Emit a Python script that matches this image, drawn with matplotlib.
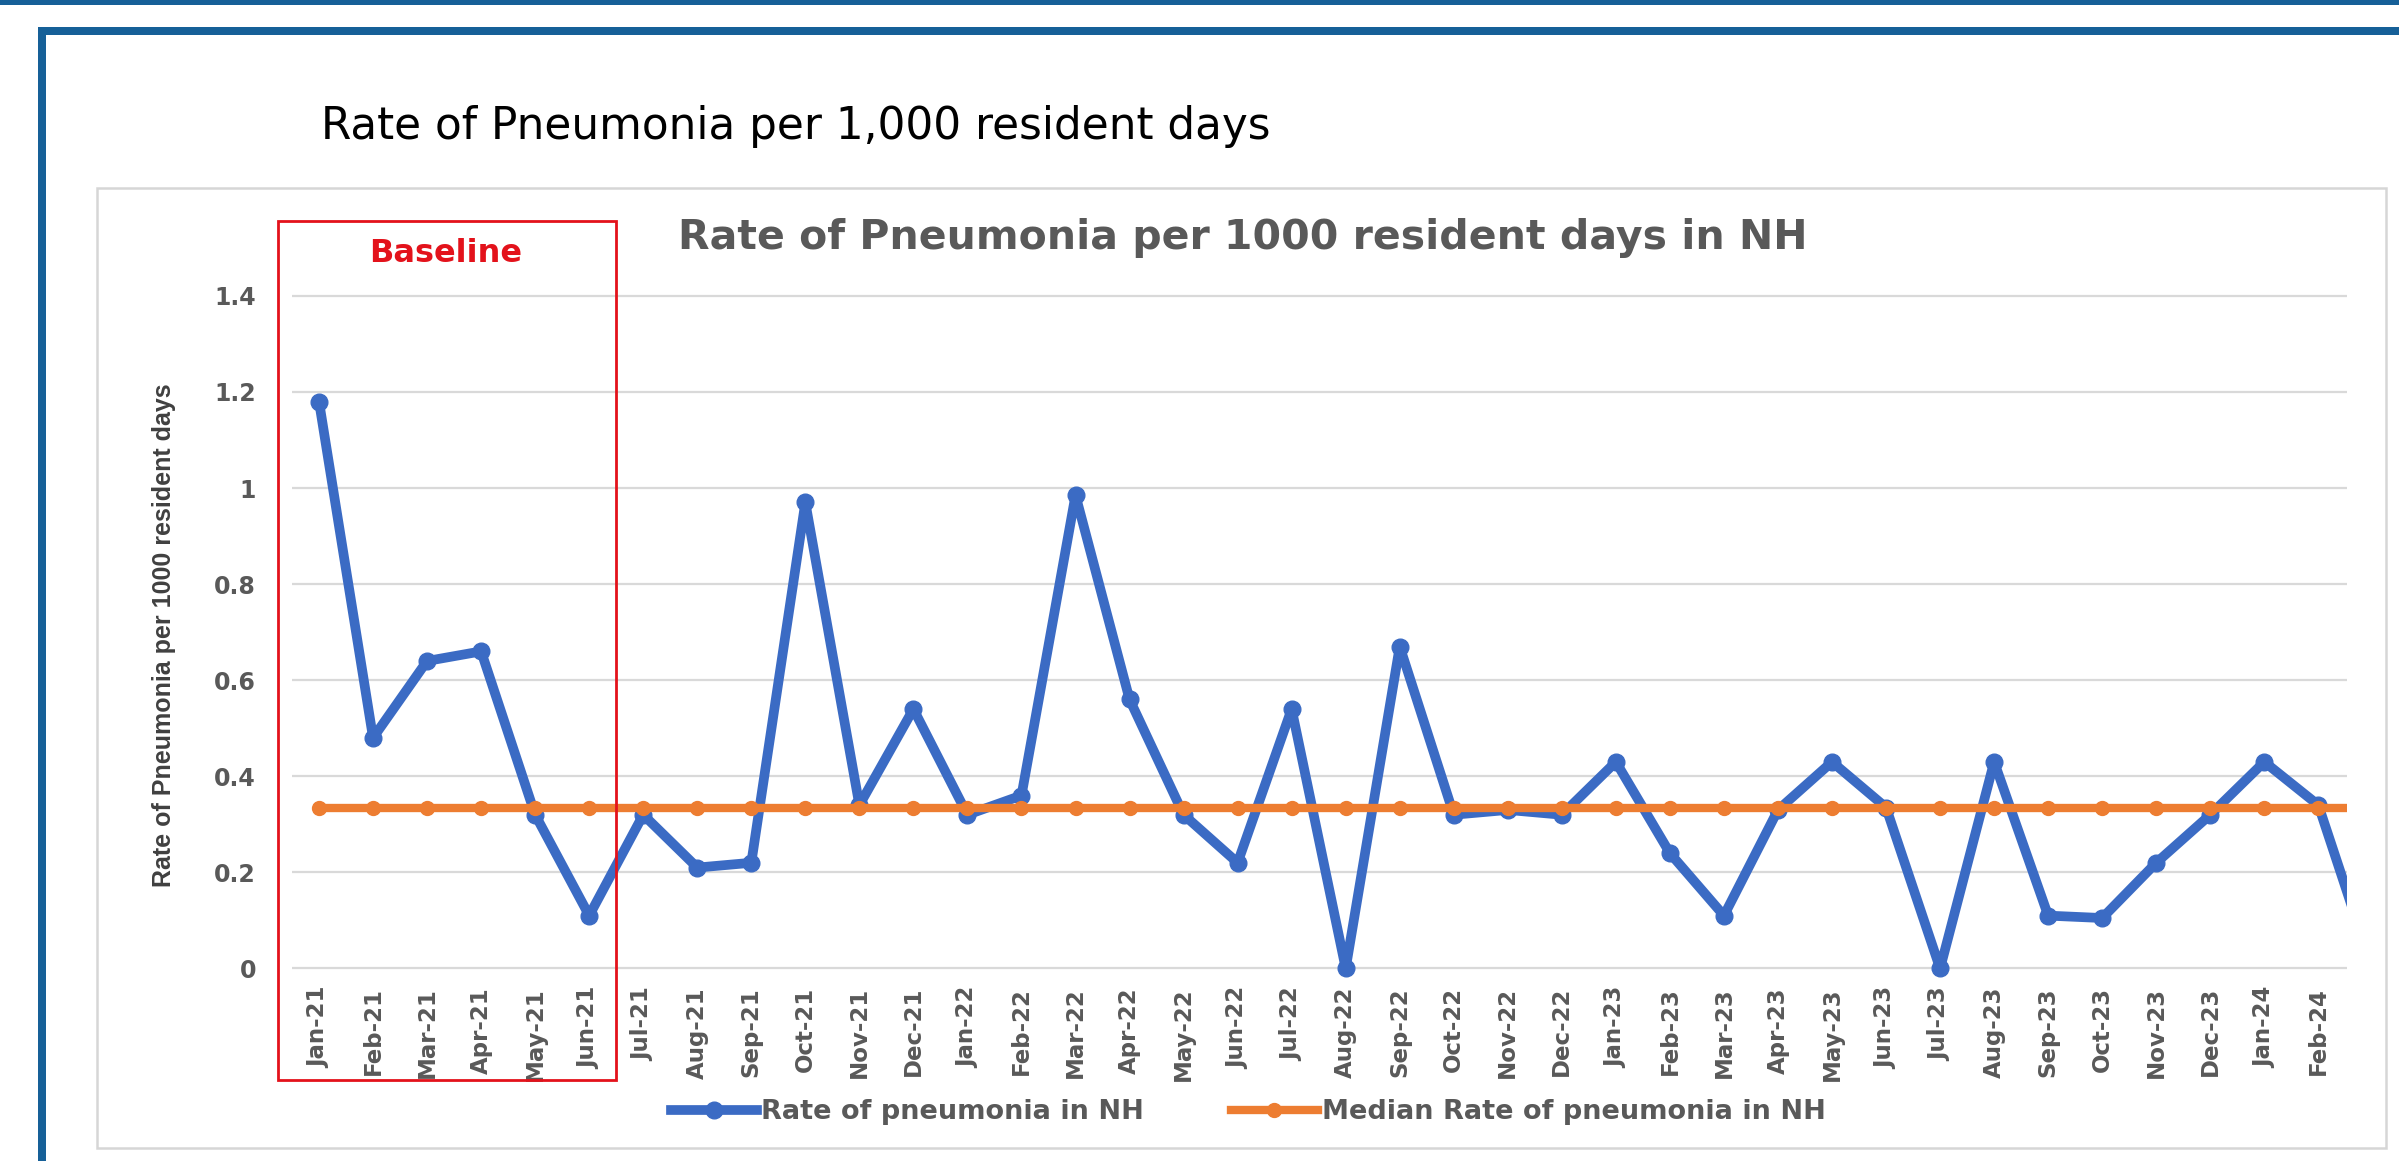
import matplotlib
matplotlib.use("Agg")
import matplotlib.pyplot as plt
from matplotlib.patches import Rectangle

# monthly rate of pneumonia per 1000 resident days (Mar-24 runs off the plot edge)
months = ["Jan-21", "Feb-21", "Mar-21", "Apr-21", "May-21", "Jun-21",
          "Jul-21", "Aug-21", "Sep-21", "Oct-21", "Nov-21", "Dec-21",
          "Jan-22", "Feb-22", "Mar-22", "Apr-22", "May-22", "Jun-22",
          "Jul-22", "Aug-22", "Sep-22", "Oct-22", "Nov-22", "Dec-22",
          "Jan-23", "Feb-23", "Mar-23", "Apr-23", "May-23", "Jun-23",
          "Jul-23", "Aug-23", "Sep-23", "Oct-23", "Nov-23", "Dec-23",
          "Jan-24", "Feb-24", "Mar-24"]
rate = [1.18, 0.48, 0.64, 0.66, 0.32, 0.11,
        0.32, 0.21, 0.22, 0.97, 0.34, 0.54,
        0.32, 0.36, 0.985, 0.56, 0.32, 0.22,
        0.54, 0.0, 0.67, 0.32, 0.33, 0.32,
        0.43, 0.24, 0.11, 0.33, 0.43, 0.335,
        0.0, 0.43, 0.11, 0.105, 0.22, 0.32,
        0.43, 0.34, 0.0]
median_value = 0.335
median_rate = [median_value] * len(months)

y_ticks = [0, 0.2, 0.4, 0.6, 0.8, 1.0, 1.2, 1.4]
y_tick_labels = ["0", "0.2", "0.4", "0.6", "0.8", "1", "1.2", "1.4"]

BLUE = "#3b6bc4"
ORANGE = "#ed7d31"
GREY = "#595959"
RED = "#e3121b"
PANEL = "#166098"

W, H = 2399, 1161
fig = plt.figure(figsize=(W / 100, H / 100), dpi=100)


def fx(x):
    return x / W


def fy(y):
    return 1 - y / H


def box(x0, y0, x1, y1, **kw):
    # rectangle given in pixel coords (top-left origin)
    r = Rectangle((fx(x0), fy(y1)), (x1 - x0) / W, (y1 - y0) / H,
                  transform=fig.transFigure, **kw)
    fig.add_artist(r)
    return r


# page frame
box(0, 0, W, 5, color=PANEL, lw=0)
box(38, 27, W, 35, color=PANEL, lw=0)
box(38, 27, 46, H, color=PANEL, lw=0)
box(97, 188, 2386, 1148, fill=False, edgecolor="#d6d6d6", lw=1.8)

fig.text(fx(321), fy(127), "Rate of Pneumonia per 1,000 resident days",
         fontsize=31.5, family="DejaVu Sans", color="black", va="center", ha="left")

ax = fig.add_axes([fx(292), fy(992.5), (2347 - 292) / W, (992.5 - 271.8) / H])
ax.patch.set_alpha(0)
x = list(range(len(months)))
ax.plot(x, rate, color=BLUE, lw=7, marker="o", ms=12,
        label="Rate of pneumonia in NH", zorder=3)
ax.plot(x, median_rate, color=ORANGE, lw=6, marker="o", ms=10,
        label="Median Rate of pneumonia in NH", zorder=4)

ax.set_yticks(y_ticks, y_tick_labels)
ax.set_xticks(x, months, rotation=90)
ax.set_xlim(-0.5, 37.53)
ax.set_ylim(-0.05, 1.45)
ax.tick_params(length=0)
ax.tick_params(axis="y", pad=26)
ax.tick_params(axis="x", pad=-4)
for s in ax.spines.values():
    s.set_visible(False)
ax.yaxis.grid(True, color="#d9d9d9", lw=1.6)
ax.set_axisbelow(True)

for lbl in ax.get_xticklabels():
    lbl.set_family("DejaVu Sans")
    lbl.set_fontweight("bold")
    lbl.set_fontsize(16.5)
    lbl.set_color(GREY)
for lbl in ax.get_yticklabels():
    lbl.set_family("DejaVu Sans")
    lbl.set_fontweight("bold")
    lbl.set_fontsize(17)
    lbl.set_color(GREY)

fig.text(fx(164), fy(635), "Rate of Pneumonia per 1000 resident days",
         rotation=90, family="Liberation Sans", fontweight="bold",
         fontsize=18, color="#404040", ha="center", va="center")

fig.text(fx(1243), fy(238), "Rate of Pneumonia per 1000 resident days in NH",
         family="DejaVu Sans", fontweight="bold", fontsize=29.5, color=GREY,
         ha="center", va="center")

# baseline period box
box(278, 221, 616, 1080, fill=False, edgecolor=RED, lw=2)
fig.text(fx(446), fy(253), "Baseline", family="DejaVu Sans", fontweight="bold",
         fontsize=23, color=RED, ha="center", va="center")

handles, labels = ax.get_legend_handles_labels()
fig.legend(handles, labels, loc="center", bbox_to_anchor=(fx(1248), fy(1112)),
           ncol=2, frameon=False, numpoints=1, handlelength=3.2,
           handletextpad=0.15, columnspacing=3.2,
           prop={"family": "DejaVu Sans", "weight": "bold", "size": 19.5},
           labelcolor=GREY)

fig.savefig("out.png", dpi=100, facecolor="white")
